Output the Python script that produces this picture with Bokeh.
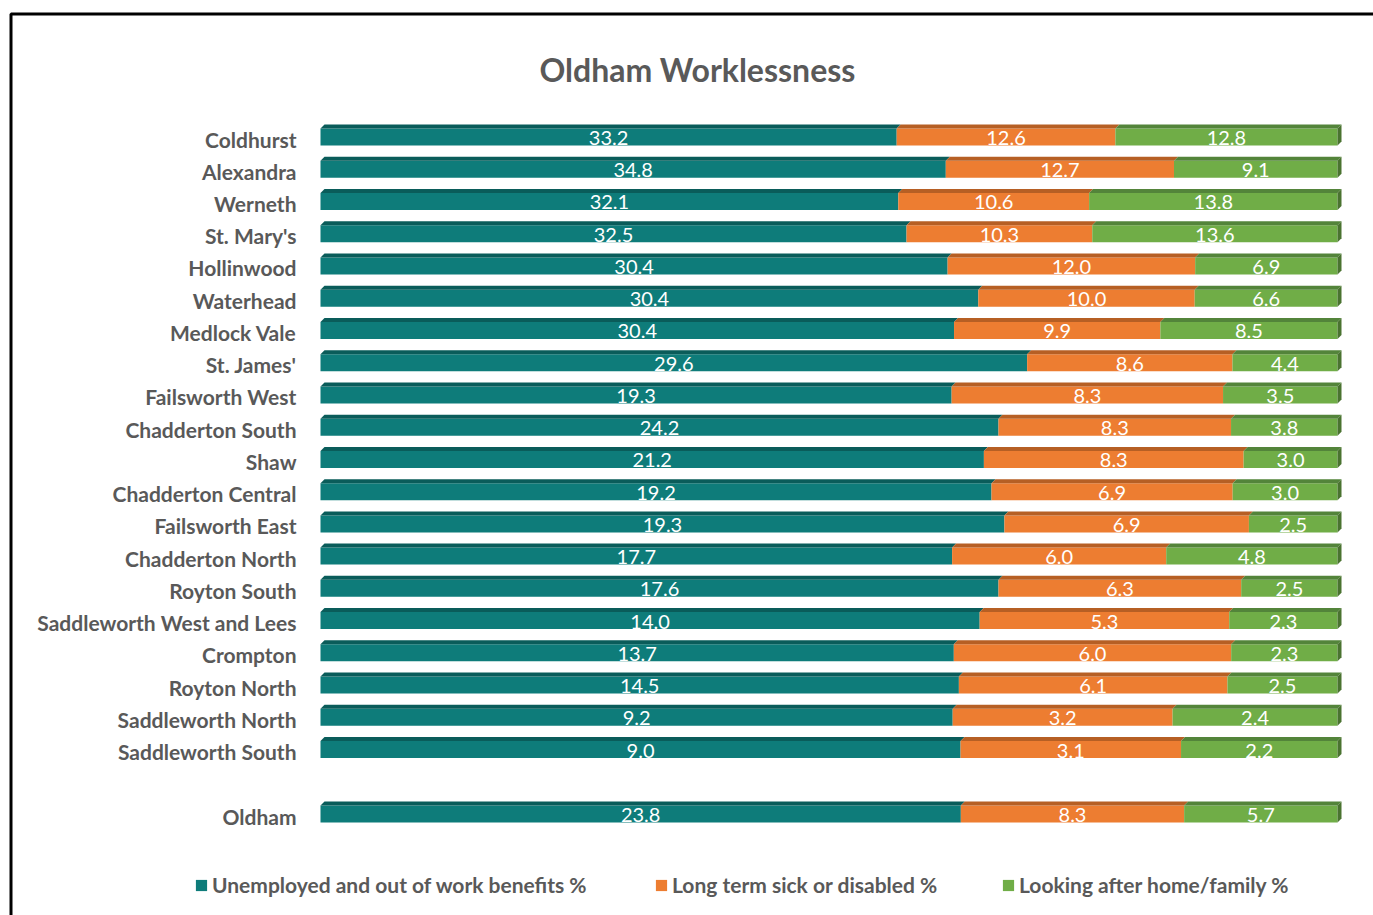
import numpy as np
from bokeh.plotting import figure
from bokeh.models import Range1d, ColumnDataSource, Legend, LegendItem, Label
from bokeh.core.properties import value
from bokeh.embed import file_html
from bokeh.resources import INLINE

# ---------------- data ----------------
wards = ["Coldhurst", "Alexandra", "Werneth", "St. Mary's", "Hollinwood", "Waterhead",
         "Medlock Vale", "St. James'", "Failsworth West", "Chadderton South", "Shaw",
         "Chadderton Central", "Failsworth East", "Chadderton North", "Royton South",
         "Saddleworth West and Lees", "Crompton", "Royton North", "Saddleworth North",
         "Saddleworth South", "Oldham"]
unemployed = [33.2, 34.8, 32.1, 32.5, 30.4, 30.4, 30.4, 29.6, 19.3, 24.2, 21.2,
              19.2, 19.3, 17.7, 17.6, 14.0, 13.7, 14.5, 9.2, 9.0, 23.8]
sick = [12.6, 12.7, 10.6, 10.3, 12.0, 10.0, 9.9, 8.6, 8.3, 8.3, 8.3,
        6.9, 6.9, 6.0, 6.3, 5.3, 6.0, 6.1, 3.2, 3.1, 8.3]
home = [12.8, 9.1, 13.8, 13.6, 6.9, 6.6, 8.5, 4.4, 3.5, 3.8, 3.0,
        3.0, 2.5, 4.8, 2.5, 2.3, 2.3, 2.5, 2.4, 2.2, 5.7]
series_names = ["Unemployed and out of work benefits %", "Long term sick or disabled %",
                "Looking after home/family %"]
title_text = "Oldham Worklessness"

# ---------------- layout constants ----------------
W, H = 1373, 915
PX_X = 1017.0      # pixels for 100%
X0 = 320.0         # pixel of 0%
PX_Y = 32.24       # pixels per row
YC_TOP = 134.5     # pixel centre of first row
FONT = "Lato"

face_colors = ["#0e7c7a", "#ed7d31", "#70ad47"]
top_colors = ["#0a5c5a", "#b65f24", "#53843a"]
side_color = "#4a7330"

xs = -X0 / PX_X
xe = xs + W / PX_X
first_c = 21.5
ye = first_c + YC_TOP / PX_Y
ys = ye - H / PX_Y

# rows: 20 wards, a blank row, then Oldham
row_idx = list(range(len(wards) - 1)) + [len(wards)]
yc = np.array([first_c - r for r in row_idx])

vals = np.array([unemployed, sick, home], dtype=float)
tot = vals.sum(axis=0)
frac = vals / tot
ends = np.cumsum(frac, axis=0)
starts = ends - frac

half = 10.5 / PX_Y
strip = 4.0 / PX_Y
dx = 4.0 / PX_X
face_bot = yc - half
face_top = yc + half - strip
bar_top = yc + half

p = figure(width=W, height=H, x_range=Range1d(xs, xe), y_range=Range1d(ys, ye),
           output_backend="svg", toolbar_location=None, min_border=0, title=None,
           x_axis_location=None, y_axis_location=None)
p.grid.visible = False
p.outline_line_color = None
p.background_fill_color = "white"
p.border_fill_color = "white"

face_renderers = []
for k in range(3):
    src = ColumnDataSource(dict(left=starts[k], right=ends[k], bottom=face_bot, top=face_top))
    r = p.quad(left="left", right="right", bottom="bottom", top="top", source=src,
               fill_color=face_colors[k], line_color=None)
    face_renderers.append(r)
    # top strip (3D)
    px = [[l, l + dx, rr + dx, rr] for l, rr in zip(starts[k], ends[k])]
    py = [[ft, bt, bt, ft] for ft, bt in zip(face_top, bar_top)]
    p.patches(xs=px, ys=py, fill_color=top_colors[k], line_color=None)

# right side face of the last segment
sx = [[e, e + dx, e + dx, e] for e in ends[2]]
sy = [[fb, fb + strip, bt, ft] for fb, ft, bt in zip(face_bot, face_top, bar_top)]
p.patches(xs=sx, ys=sy, fill_color=side_color, line_color=None)

# value labels
lab_x, lab_y, lab_t = [], [], []
for k in range(3):
    for i in range(len(wards)):
        lab_x.append((starts[k][i] + ends[k][i]) / 2)
        lab_y.append(yc[i] - 3.0 / PX_Y)
        lab_t.append(f"{vals[k][i]:.1f}")
p.text(x=lab_x, y=lab_y, text=lab_t, text_color="white", text_font=value(FONT),
       text_font_size="20px", text_align="center", text_baseline="middle")

# category labels
p.text(x=[(296 - X0) / PX_X] * len(wards), y=list(yc - 4.0 / PX_Y), text=wards,
       text_color="#595959", text_font=value(FONT), text_font_size="21px",
       text_font_style="bold", text_align="right", text_baseline="middle")

# title
p.add_layout(Label(x=(697 - X0) / PX_X, y=ye - 68.5 / PX_Y, text=title_text,
                   text_color="#595959", text_font=FONT, text_font_size="32px",
                   text_font_style="bold", text_align="center", text_baseline="middle"))

# frame
p.line(x=[xs + 10.5 / PX_X, xs + 10.5 / PX_X, xe + 1], y=[ys - 1, ye - 13.5 / PX_Y, ye - 13.5 / PX_Y],
       line_color="black", line_width=3)

# legends
leg_x = [194, 654, 1001]
for k in range(3):
    lg = Legend(items=[LegendItem(label=series_names[k], renderers=[face_renderers[k]])],
                location=(leg_x[k], 18), orientation="horizontal",
                glyph_width=14, glyph_height=14, label_standoff=4, padding=0, margin=0,
                label_text_font=FONT, label_text_font_size="21px", label_text_font_style="bold",
                label_text_color="#595959", border_line_color=None, background_fill_alpha=0,
                label_height=22)
    p.add_layout(lg)

open("out.html", "w").write(file_html(p, INLINE))
